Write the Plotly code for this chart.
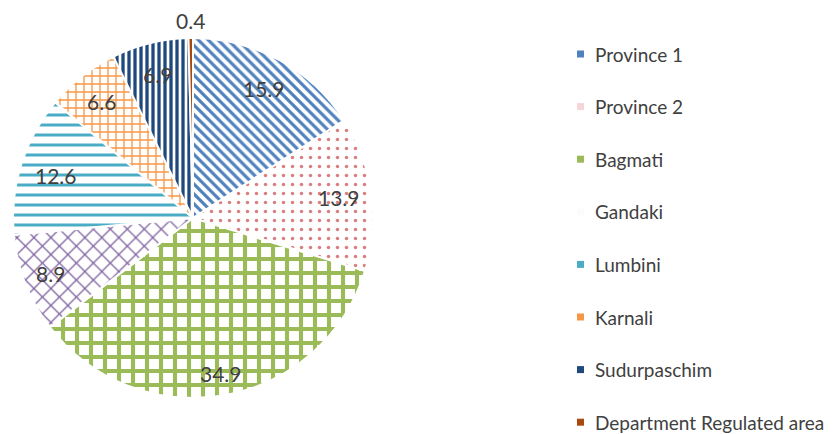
import math
import plotly.graph_objects as go

labels = ["Province 1", "Province 2", "Bagmati", "Gandaki", "Lumbini",
          "Karnali", "Sudurpaschim", "Department Regulated area"]
values = [15.9, 13.9, 34.9, 8.9, 12.6, 6.6, 6.9, 0.4]
colors = ["#4F81BD", "#DA7E80", "#9BBB59", "#8064A2", "#4BACC6",
          "#F79646", "#1F497D", "#A9480F"]
patterns = ["\\", ".", "+", "x", "-", "+", "|", ""]
pattern_sizes = [7, 9, 14, 12, 10, 8, 6, 8]
pattern_solidity = [0.45, 0.12, 0.5, 0.2, 0.3, 0.3, 0.55, 0.3]
legend_marker_colors = ["#4F81BD", "#F4D6D6", "#9BBB59", "#FBFBFD",
                        "#4BACC6", "#F79646", "#1F497D", "#A9480F"]
label_radius_frac = [0.82, 0.82, 0.88, 0.85, 0.80, 0.82, 0.82, 1.10]

W, H = 838, 434
# pie geometry in pixels
CX, CY, R = 193, 218, 180

fig = go.Figure()
fig.add_trace(go.Pie(
    labels=labels,
    values=values,
    sort=False,
    direction="clockwise",
    rotation=0,
    textinfo="none",
    marker=dict(
        colors=colors,
        line=dict(color="white", width=2),
        pattern=dict(shape=patterns, fgcolor=colors, bgcolor="white",
                     size=pattern_sizes, solidity=pattern_solidity,
                     fillmode="replace"),
    ),
    domain=dict(x=[(CX - R) / W, (CX + R) / W],
                y=[1 - (CY + R) / H, 1 - (CY - R) / H]),
    showlegend=False,
    hoverinfo="label+value",
))

# data labels positioned at the mid-angle of each slice
total = sum(values)
cum = 0.0
for v, f in zip(values, label_radius_frac):
    mid = (cum + v / 2) / total * 2 * math.pi
    cum += v
    px = CX + R * f * math.sin(mid)
    py = CY - R * f * math.cos(mid)
    fig.add_annotation(x=px / W, y=1 - py / H, xref="paper", yref="paper",
                       text=f"{v:.1f}", showarrow=False,
                       xanchor="center", yanchor="middle",
                       font=dict(family="Lato", size=21, color="#404040"))

# legend drawn as annotations + small squares
y0 = 54
step = 52.6
for i, (lab, col) in enumerate(zip(labels, legend_marker_colors)):
    yc = y0 + i * step
    fig.add_shape(type="rect", xref="paper", yref="paper",
                  x0=577 / W, x1=584 / W,
                  y0=1 - (yc + 3.5) / H, y1=1 - (yc - 3.5) / H,
                  fillcolor=col, line=dict(width=0))
    fig.add_annotation(x=593 / W, y=1 - yc / H, xref="paper", yref="paper",
                       text=lab, showarrow=False, xanchor="left", yanchor="middle",
                       font=dict(family="Lato", size=19, color="#404040"))

fig.update_layout(
    width=W, height=H,
    margin=dict(l=0, r=0, t=0, b=0),
    paper_bgcolor="white",
    plot_bgcolor="white",
)

fig.write_html("out.html", config={"displayModeBar": False},
               post_script="document.body.style.margin='0';")
